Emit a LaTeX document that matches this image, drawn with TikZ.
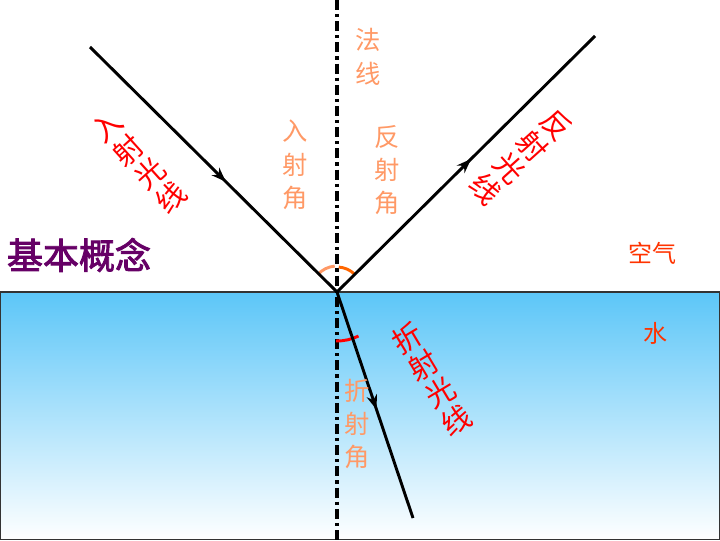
\documentclass[tikz,border=0pt]{standalone}
\usepackage{fontspec}
\usetikzlibrary{arrows.meta,decorations.markings}
\newfontfamily\cjk[AutoFakeBold=2.5]{Noto Sans CJK SC}
\definecolor{waterblue}{RGB}{92,198,248}
\definecolor{mysalmon}{RGB}{255,153,102}
\definecolor{myorange}{RGB}{255,102,0}
\definecolor{myred}{RGB}{255,51,0}
\definecolor{mypurple}{RGB}{102,0,102}
\begin{document}
\begin{tikzpicture}[x=0.75pt,y=0.75pt,
    ray/.style={line width=2.2pt,black},
    normalline/.style={black,line width=2.4pt,dash pattern=on 7.5pt off 3pt on 2.4pt off 3pt},
    midarrow/.style={postaction={decorate},decoration={markings,
      mark=at position #1 with {\arrow{Stealth[length=11pt,width=8pt]}}}},
    raylabel/.style={text=red,align=center,font=\cjk\fontsize{22}{24}\selectfont},
    anglabel/.style={text=mysalmon,align=center,font=\cjk\fontsize{19}{25}\selectfont},
    medlabel/.style={text=myred,font=\cjk\fontsize{18}{20}\selectfont},
    anglearc/.style={line width=2.2pt}
  ]
  \useasboundingbox (0,0) rectangle (720,540);

  % the water
  \fill[top color=waterblue,bottom color=white] (0,0) rectangle (720,248);
  \draw[line width=1.2pt,black!80] (0.6,0.6) rectangle (719.4,248);

  % the points
  \coordinate (O) at (337,248);
  \coordinate (inc) at (90,493);
  \coordinate (refl) at (595,504);
  \coordinate (refr) at (413,22);
  \coordinate (ntop) at (337,540);
  \coordinate (nbot) at (337,0);

  % the normal
  \draw[normalline,line width=2.4pt] (ntop) -- (nbot);

  % the angles
  \draw[anglearc,mysalmon] ([shift={(138:26)}]O) arc (138:95:26);
  \draw[anglearc,myorange] ([shift={(86:25)}]O) arc (86:45:25);
  \draw[anglearc,red] ([shift={(-91:49)}]O) arc (-91:-64:49);

  % the rays
  \draw[ray,midarrow=0.55] (inc) -- (O);
  \draw[ray,midarrow=0.52] (O) -- (refl);
  \draw[ray,midarrow=0.52] (O) -- (refr);

  % the labels
  \node[raylabel,rotate=42] (incl) at (139,378) {入\\射\\光\\线};
  \node[raylabel,rotate=-48] (refll) at (521,383) {反\\射\\光\\线};
  \node[raylabel,rotate=31] (refrl) at (432,161) {折\\射\\光\\线};
  \node[anglabel,font=\cjk\fontsize{19}{26}\selectfont] (norml) at (368,483) {法\\线};
  \node[anglabel] (inca) at (295,375) {入\\射\\角};
  \node[anglabel] (refla) at (387,370) {反\\射\\角};
  \node[anglabel] (refra) at (357,116) {折\\射\\角};
  \node[medlabel] (air) at (652,287) {空气};
  \node[medlabel] (water) at (655,207) {水};
  \node[text=mypurple,font=\cjk\bfseries\fontsize{27}{30}\selectfont] (title) at (79,285) {基本概念};
\end{tikzpicture}
\end{document}
